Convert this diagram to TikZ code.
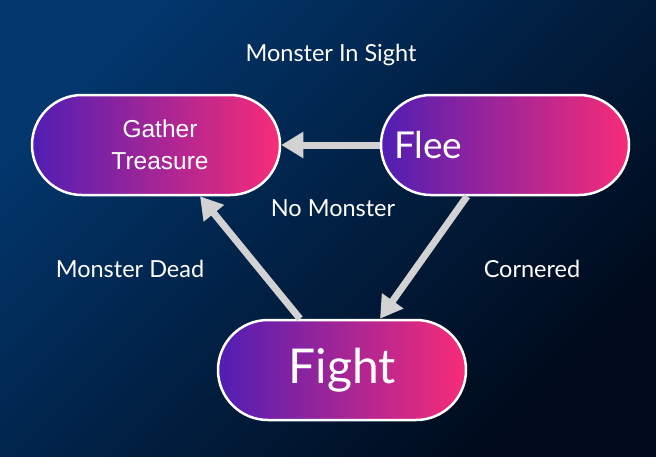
\documentclass[tikz,border=0pt]{standalone}
\usepackage{fontspec}
\setmainfont{Lato}
\newfontfamily\arialfont{Liberation Sans}
\usetikzlibrary{arrows.meta,positioning}

\definecolor{bgtop}{RGB}{2,54,108}
\definecolor{bgbot}{RGB}{0,10,26}
\definecolor{statel}{RGB}{80,30,180}
\definecolor{stater}{RGB}{248,44,120}
\definecolor{arrowgray}{RGB}{210,210,210}

\begin{document}
\begin{tikzpicture}[x=1pt, y=-1pt,
    every node/.style={text=white},
    state/.style={draw=white, line width=2.5pt, rounded corners=50pt,
        minimum width=248pt, minimum height=100pt, inner sep=0pt,
        left color=statel, right color=stater},
    lbl/.style={font=\fontsize{23.5}{28}\selectfont},
    trans/.style={draw=arrowgray, line width=7pt, -{Triangle[length=22pt, width=25pt]}}]
    % background
    \shade[top color=bgtop, bottom color=bgbot, shading angle=45] (0, 0) rectangle (656, 456);
    \useasboundingbox (0, 0) rectangle (656, 456);

    % states
    \node[state, align=center, font=\arialfont\fontsize{24.5}{32}\selectfont] (gather) at (156, 145) {\hspace*{8pt}Gather\\\hspace*{8pt}Treasure};
    \node[state, text width=222pt, inner xsep=13pt, align=left, font=\fontsize{37}{40}\selectfont] (flee) at (505, 145) {Flee};
    \node[state, font=\fontsize{48}{52}\selectfont] (fight) at (342, 370) {Fight};

    % labels
    \node[lbl] (insight) at (331, 55) {Monster In Sight};
    \node[lbl] (nomonster) at (333, 208) {No Monster};
    \node[lbl] (dead) at (130, 269) {Monster Dead};
    \node[lbl] (cornered) at (532, 269) {Cornered};

    % transitions
    \draw[trans] (flee.west) -- (gather.east);
    \draw[trans] ([xshift=-42pt]fight.north) -- ([xshift=44pt]gather.south);
    \draw[trans] ([xshift=-38pt]flee.south) -- ([xshift=38pt]fight.north);
\end{tikzpicture}
\end{document}
